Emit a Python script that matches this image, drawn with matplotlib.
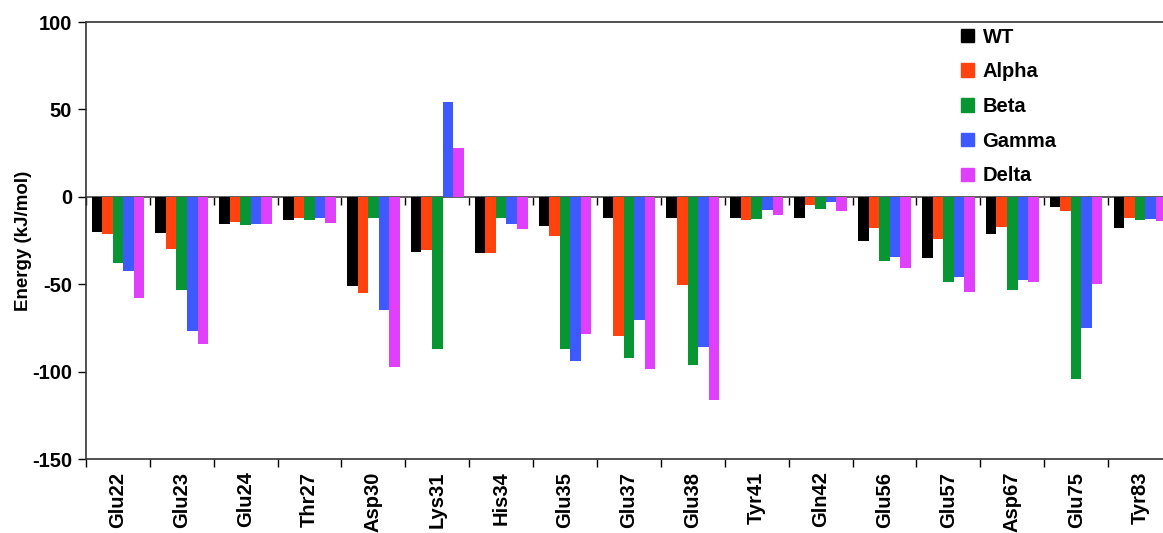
#!/usr/bin/env python3
# -*- coding: utf-8 -*-
"""
Per-residue interaction energy for the WT and the four variants.
"""

import numpy as np
import matplotlib
matplotlib.use("Agg")
import matplotlib.pyplot as plt
from matplotlib import patches as mpatches

plt.rcParams['font.family'] = ['Liberation Sans', 'DejaVu Sans']
plt.rcParams['font.weight'] = 'bold'
plt.rcParams['axes.unicode_minus'] = False

RESIDUES = ["Glu22", "Glu23", "Glu24", "Thr27", "Asp30", "Lys31", "His34", "Glu35",
            "Glu37", "Glu38", "Tyr41", "Gln42", "Glu56", "Glu57", "Asp67", "Glu75", "Tyr83"]

WT = [-20.0, -20.8, -15.6, -13.5, -51.1, -31.7, -32.3, -16.5, -12.0,
      -12.2, -12.2, -12.2, -25.2, -35.1, -21.0, -6.1, -18.1]
ALPHA = [-21.0, -29.8, -14.3, -12.4, -55.3, -30.6, -32.3, -22.5, -79.5,
         -50.6, -13.0, -4.8, -17.6, -24.0, -17.0, -8.2, -12.4]
BETA = [-37.8, -53.2, -16.4, -13.2, -12.2, -86.9, -11.9, -86.9, -92.4,
        -96.2, -12.8, -7.2, -37.0, -48.7, -53.2, -104.2, -13.4]
GAMMA = [-42.2, -76.7, -15.8, -12.4, -64.5, 54.4, -15.4, -94.1, -70.6,
         -86.2, -7.6, -2.9, -34.2, -45.8, -47.7, -74.8, -12.6]
DELTA = [-57.8, -84.1, -15.8, -15.1, -97.1, 27.9, -18.6, -78.4, -98.5,
         -116.0, -10.5, -8.4, -40.6, -54.2, -48.7, -49.6, -13.7]

SYSTEMS = ["WT", "Alpha", "Beta", "Gamma", "Delta"]
SERIES = [WT, ALPHA, BETA, GAMMA, DELTA]
COLORS = {
    "WT": "#000000",
    "Alpha": "#ff420e",
    "Beta": "#079632",
    "Gamma": "#3d5afe",
    "Delta": "#e040fb",
    }


def main():
    fig = plt.figure(figsize=(11.63, 5.33), dpi=100)
    ax = fig.add_axes([0.0739, 0.1388, 0.9338, 0.8199])

    x = np.arange(len(RESIDUES))
    width = 0.165
    for j, (system, vals) in enumerate(zip(SYSTEMS, SERIES)):
        ax.bar(x + (j - 2) * width, vals, width, color=COLORS[system],
               label=system, zorder=3)

    ax.set_xlim(-0.5, len(RESIDUES) - 0.5)
    ax.set_ylim(-150, 100)
    ax.set_yticks(np.arange(-150, 101, 50))
    ax.tick_params(axis='y', labelsize=14.5, length=6, width=1, direction='out', pad=4)

    # group separators on the bottom spine, residue names on minor ticks
    bounds = np.arange(len(RESIDUES) + 1) - 0.5
    ax.set_xticks(bounds)
    ax.set_xticklabels([])
    ax.set_xticks(x, minor=True)
    ax.set_xticklabels(RESIDUES, minor=True, rotation=90)
    ax.tick_params(axis='x', which='major', length=6, width=1)
    ax.tick_params(axis='x', which='minor', length=0, labelsize=14.5, pad=9)

    ax.spines['right'].set_visible(False)
    for s in ['left', 'top', 'bottom']:
        ax.spines[s].set_color('#333333')
        ax.spines[s].set_linewidth(1.2)

    # zero line with its own short separators
    zero = ax.secondary_xaxis(150 / 250)
    zero.set_xticks(bounds)
    zero.set_xticklabels([])
    zero.tick_params(axis='x', direction='in', length=6, width=1)
    zero.spines['top'].set_color('#444444')
    zero.spines['top'].set_linewidth(1.2)

    ax.set_ylabel("Energy (kJ/mol)", fontsize=13.5, fontweight='bold', labelpad=0)

    handles = [mpatches.Patch(color=COLORS[s], label=s) for s in SYSTEMS]
    ax.legend(handles=handles, loc='upper left', bbox_to_anchor=(0.795, 1.015),
              frameon=False, fontsize=14.5, handlelength=0.65, handleheight=0.65,
              handletextpad=0.4, labelspacing=0.78, borderaxespad=0.2)

    fig.savefig("out.png", dpi=100)


if __name__ == "__main__":
    main()
